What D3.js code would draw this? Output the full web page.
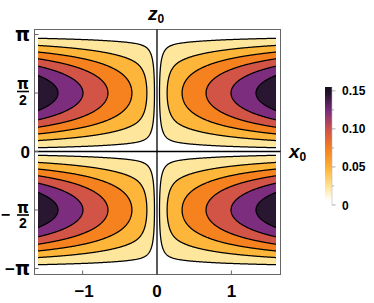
<!DOCTYPE html>
<html>
<head>
<meta charset="utf-8">
<script src="https://cdn.jsdelivr.net/npm/d3@7"></script>
<style>
body{margin:0;background:#fff;}
svg{display:block;}
text{font-family:"Liberation Sans",Arial,sans-serif;font-weight:bold;fill:#000;}
text.pi{font-family:"DejaVu Sans",sans-serif;}
</style>
</head>
<body>
<svg id="svg" width="374" height="303"></svg>
<script>
//等值线阈值与色条
var levels = [0.01, 0.035, 0.06, 0.085, 0.11, 0.135];
var barStops = [0, 0.006, 0.0225, 0.0475, 0.0725, 0.0975, 0.1225, 0.1475, 0.155];
var barColors = ['#ffffff', '#ffffff', '#fee79d', '#fdb53a', '#f5821f', '#d25446', '#7d2d7e', '#201428', '#170e1f'];
var barTicks = [0, 0.05, 0.10, 0.15];
var barTickLabels = ['0', '0.05', '0.10', '0.15'];
var barMinor = [0.025, 0.075, 0.125];

//坐标轴刻度
var xTicks = [-1, 0, 1];
var xTickLabels = ['\u22121', '0', '1'];
var zTicks = [Math.PI, Math.PI / 2, 0, -Math.PI / 2, -Math.PI];
var zTickLabels = [
    {sign: '', num: '\u03c0', den: ''},
    {sign: '', num: '\u03c0', den: '2'},
    {sign: '', num: '0', den: ''},
    {sign: '\u2212', num: '\u03c0', den: '2'},
    {sign: '\u2212', num: '\u03c0', den: ''}
];

//绘图区域（函数定义域）
var xDomain = [-1.6, 1.6];
var zDomain = [-Math.PI, Math.PI];

//场函数参数：峰值在 x0=±1.6, z0=±π/2
var peak = 0.155;
var layerA = 0.232, layerW = 0.16, slope = 0.48, zPow = 1.2;

function field(x, z) {
    var ax = Math.abs(x);
    return peak * (layerA * Math.tanh(ax / layerW) + slope * ax) * Math.pow(Math.abs(Math.sin(z)), zPow);
}

/***************************绘图******************************/

var svg = d3.select('#svg');

var x = d3.scaleLinear().domain(xDomain).range([38, 276]);
var y = d3.scaleLinear().domain(zDomain).range([268.5, 34.5]);
var color = d3.scaleLinear().domain(barStops).range(barColors).interpolate(d3.interpolateRgb);

//网格略大于定义域，这样边界线段落在裁剪区外
var nx = 400, ny = 400;
var gx0 = -1.67, gx1 = 1.67, gz0 = -Math.PI - 0.07, gz1 = Math.PI + 0.07;
var dx = (gx1 - gx0) / (nx - 1), dz = (gz1 - gz0) / (ny - 1);
var values = new Array(nx * ny);
for (var j = 0; j < ny; j++) {
    for (var i = 0; i < nx; i++) {
        values[j * nx + i] = field(gx0 + i * dx, gz0 + j * dz);
    }
}
var contours = d3.contours().size([nx, ny]).thresholds(levels)(values);

var proj = d3.geoTransform({
    point: function(u, v) {
        this.stream.point(x(gx0 + (u - 0.5) * dx), y(gz0 + (v - 0.5) * dz));
    }
});
var path = d3.geoPath(proj);

svg.append('clipPath').attr('id', 'plotClip').append('rect')
    .attr('x', x(xDomain[0])).attr('y', y(zDomain[1]))
    .attr('width', x(xDomain[1]) - x(xDomain[0]))
    .attr('height', y(zDomain[0]) - y(zDomain[1]));

var plot = svg.append('g').attr('clip-path', 'url(#plotClip)');

//最低一档
plot.append('rect')
    .attr('x', x(xDomain[0])).attr('y', y(zDomain[1]))
    .attr('width', x(xDomain[1]) - x(xDomain[0]))
    .attr('height', y(zDomain[0]) - y(zDomain[1]))
    .attr('fill', color(levels[0] / 2));

plot.selectAll('path.band').data(contours).enter().append('path')
    .attr('class', 'band')
    .attr('d', path)
    .attr('fill', function(d, k) {
        var hi = k + 1 < levels.length ? levels[k + 1] : peak;
        return color((d.value + hi) / 2);
    })
    .attr('stroke', 'none');

plot.selectAll('path.line').data(contours).enter().append('path')
    .attr('class', 'line')
    .attr('d', path)
    .attr('fill', 'none')
    .attr('stroke', '#000')
    .attr('stroke-width', 1.25);

//边框
var fx0 = 34.5, fx1 = 280.5, fy0 = 29.5, fy1 = 274.5;
svg.append('rect')
    .attr('x', fx0).attr('y', fy0)
    .attr('width', fx1 - fx0).attr('height', fy1 - fy0)
    .attr('fill', 'none').attr('stroke', '#666').attr('stroke-width', 1);

//坐标轴线
svg.append('line').attr('x1', x(0)).attr('x2', x(0)).attr('y1', fy0).attr('y2', fy1)
    .attr('stroke', '#000').attr('stroke-width', 1.3);
svg.append('line').attr('x1', fx0).attr('x2', fx1).attr('y1', y(0)).attr('y2', y(0))
    .attr('stroke', '#000').attr('stroke-width', 1.3);

//刻度线
svg.selectAll('line.zt').data(zTicks).enter().append('line')
    .attr('x1', fx0).attr('x2', fx0 + 4)
    .attr('y1', function(d) { return y(d); }).attr('y2', function(d) { return y(d); })
    .attr('stroke', '#666');
svg.selectAll('line.xt').data(xTicks).enter().append('line')
    .attr('x1', function(d) { return x(d); }).attr('x2', function(d) { return x(d); })
    .attr('y1', fy1).attr('y2', fy1 - 4)
    .attr('stroke', '#666');

//x 刻度标签
svg.selectAll('text.xl').data(xTicks).enter().append('text')
    .attr('x', function(d) { return x(d) + (d < 0 ? 1.5 : 0); })
    .attr('y', 297)
    .attr('text-anchor', 'middle')
    .attr('font-size', 17)
    .text(function(d, k) { return xTickLabels[k]; });

//z 刻度标签（分数形式）
zTicks.forEach(function(t, k) {
    var lab = zTickLabels[k];
    var cy = y(t);
    if (lab.den === '') {
        var tx = svg.append('text').attr('x', 30).attr('y', cy + 6)
            .attr('text-anchor', 'end').attr('font-size', 17);
        if (lab.sign) tx.append('tspan').text(lab.sign);
        var main = tx.append('tspan').text(lab.num);
        if (lab.num === '\u03c0') main.attr('class', 'pi').attr('font-family', 'DejaVu Sans').attr('font-size', 19);
    } else {
        var cx = 23;
        var by = cy + (t > 0 ? -1.5 : 5);
        svg.append('text').attr('class', 'pi').attr('x', cx).attr('y', by - 2.5)
            .attr('text-anchor', 'middle').attr('font-size', 15).text(lab.num);
        svg.append('line').attr('x1', cx - 6).attr('x2', cx + 6)
            .attr('y1', by).attr('y2', by).attr('stroke', '#000').attr('stroke-width', 1.6);
        svg.append('text').attr('x', cx).attr('y', by + 13)
            .attr('text-anchor', 'middle').attr('font-size', 14).text(lab.den);
        if (lab.sign) {
            svg.append('text').attr('x', 10).attr('y', by + 5)
                .attr('text-anchor', 'end').attr('font-size', 16).text(lab.sign);
        }
    }
});

//轴标题
var zt = svg.append('text').attr('x', 148).attr('y', 20).attr('font-size', 19).attr('font-style', 'italic');
zt.append('tspan').text('z');
zt.append('tspan').attr('font-size', 12).attr('font-style', 'normal').attr('dy', 3).text('0');

var xt = svg.append('text').attr('x', 289).attr('y', 158).attr('font-size', 19).attr('font-style', 'italic');
xt.append('tspan').text('x');
xt.append('tspan').attr('font-size', 12).attr('font-style', 'normal').attr('dy', 3).text('0');

/***************************色条******************************/

var barX = 325, barW = 7;
var by = d3.scaleLinear().domain([0, peak]).range([205, 87]);

var grad = svg.append('defs').append('linearGradient').attr('id', 'barGrad')
    .attr('x1', 0).attr('y1', 1).attr('x2', 0).attr('y2', 0);
d3.range(0, 41).forEach(function(s) {
    var v = peak * s / 40;
    grad.append('stop').attr('offset', (s / 40)).attr('stop-color', color(v));
});

svg.append('rect').attr('x', barX).attr('y', by(peak))
    .attr('width', barW).attr('height', by(0) - by(peak))
    .attr('fill', 'url(#barGrad)');

svg.append('line').attr('x1', barX + barW).attr('x2', barX + barW)
    .attr('y1', by(peak)).attr('y2', by(0)).attr('stroke', '#bbb').attr('stroke-width', 0.6);

svg.selectAll('line.bt').data(barTicks.concat(barMinor)).enter().append('line')
    .attr('x1', barX + barW).attr('x2', function(d) { return barX + barW + (barMinor.indexOf(d) >= 0 ? 2 : 3.5); })
    .attr('y1', function(d) { return by(d); }).attr('y2', function(d) { return by(d); })
    .attr('stroke', '#999').attr('stroke-width', 0.8);

svg.selectAll('text.bl').data(barTicks).enter().append('text')
    .attr('x', 342).attr('y', function(d) { return by(d) + 4.5; })
    .attr('font-size', 12)
    .text(function(d, k) { return barTickLabels[k]; });
</script>
</body>
</html>
